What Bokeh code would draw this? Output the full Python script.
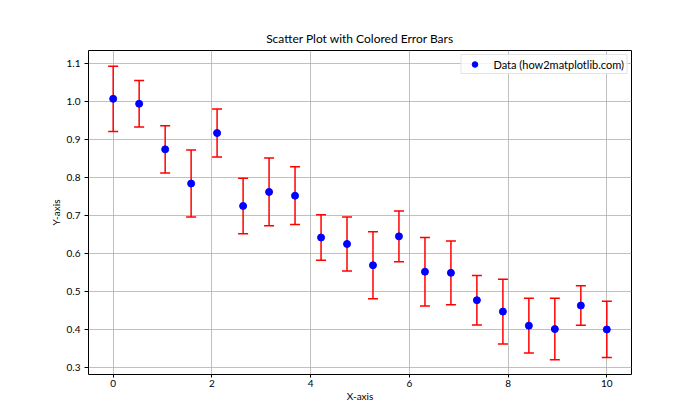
import numpy as np
from bokeh.plotting import figure
from bokeh.models import (ColumnDataSource, Legend, LegendItem, Range1d,
                          FixedTicker, PrintfTickFormatter)
from bokeh.embed import file_html
from bokeh.resources import INLINE

# ---- data ----
x_values = [0.0, 0.526, 1.053, 1.579, 2.105, 2.632, 3.158, 3.684, 4.211, 4.737,
            5.263, 5.789, 6.316, 6.842, 7.368, 7.895, 8.421, 8.947, 9.474, 10.0]
y_values = [1.008, 0.995, 0.875, 0.785, 0.918, 0.726, 0.763, 0.753, 0.643, 0.626,
            0.570, 0.646, 0.553, 0.550, 0.478, 0.448, 0.411, 0.402, 0.464, 0.401]
y_errors = [0.086, 0.061, 0.062, 0.088, 0.063, 0.073, 0.089, 0.076, 0.060, 0.071,
            0.088, 0.067, 0.090, 0.084, 0.065, 0.085, 0.072, 0.081, 0.052, 0.074]
x_ticks = [0, 2, 4, 6, 8, 10]
y_ticks = [0.3, 0.4, 0.5, 0.6, 0.7, 0.8, 0.9, 1.0, 1.1]
title = "Scatter Plot with Colored Error Bars"
legend_label = "Data (how2matplotlib.com)"

FONT = "Lato"

y = np.array(y_values)
e = np.array(y_errors)
src = ColumnDataSource(dict(x=x_values, y=y_values, lo=list(y - e), hi=list(y + e)))

p = figure(width=684, height=404, output_backend="svg", toolbar_location=None,
           x_range=Range1d(-0.5, 10.5), y_range=Range1d(0.2824, 1.1352),
           min_border_left=88, min_border_right=53, min_border_top=50, min_border_bottom=0)

p.title.text = title
p.title.align = "center"
p.title.text_font = FONT
p.title.text_font_size = "12px"
p.title.text_font_style = "normal"
p.title.text_color = "black"

p.outline_line_color = "black"
p.outline_line_width = 1
p.background_fill_color = "white"
p.border_fill_color = "white"

for ax in (p.xaxis[0], p.yaxis[0]):
    ax.axis_line_color = None
    ax.major_tick_line_color = "black"
    ax.major_tick_out = 4
    ax.major_tick_in = 0
    ax.minor_tick_line_color = None
    ax.major_label_text_font = FONT
    ax.major_label_text_font_size = "10px"
    ax.major_label_text_color = "black"
    ax.axis_label_text_font = FONT
    ax.axis_label_text_font_size = "10px"
    ax.axis_label_text_font_style = "normal"
    ax.axis_label_text_color = "black"

p.xaxis.ticker = FixedTicker(ticks=x_ticks)
p.yaxis.ticker = FixedTicker(ticks=y_ticks)
p.xaxis.formatter = PrintfTickFormatter(format="%d")
p.yaxis.formatter = PrintfTickFormatter(format="%.1f")
p.xaxis.axis_label = "X-axis"
p.yaxis.axis_label = "Y-axis"
p.xaxis.major_tick_out = 3
p.xaxis.major_label_standoff = 2
p.yaxis.major_label_standoff = 4
p.xaxis.axis_label_standoff = 0
p.yaxis.axis_label_standoff = 2

p.grid.grid_line_color = "#b0b0b0"
p.grid.grid_line_width = 0.8

# error bars
p.segment(x0="x", y0="lo", x1="x", y1="hi", source=src, line_color="red", line_width=1.5)
p.scatter(x="x", y="hi", source=src, marker="dash", size=10, line_color="red", line_width=1.5)
p.scatter(x="x", y="lo", source=src, marker="dash", size=10, line_color="red", line_width=1.5)
pts = p.scatter(x="x", y="y", source=src, marker="circle", size=7,
                fill_color="blue", line_color="blue")

legend = Legend(items=[LegendItem(label=legend_label, renderers=[pts])],
                location="top_right")
legend.label_text_font = FONT
legend.label_text_font_size = "11px"
legend.label_text_color = "black"
legend.border_line_color = "#cccccc"
legend.border_line_width = 1
legend.background_fill_alpha = 0.8
legend.padding = 2
legend.margin = 4
legend.spacing = 0
legend.glyph_height = 14
legend.glyph_width = 22
legend.label_height = 14
legend.label_standoff = 8
p.add_layout(legend)

open("out.html", "w").write(file_html(p, INLINE))
